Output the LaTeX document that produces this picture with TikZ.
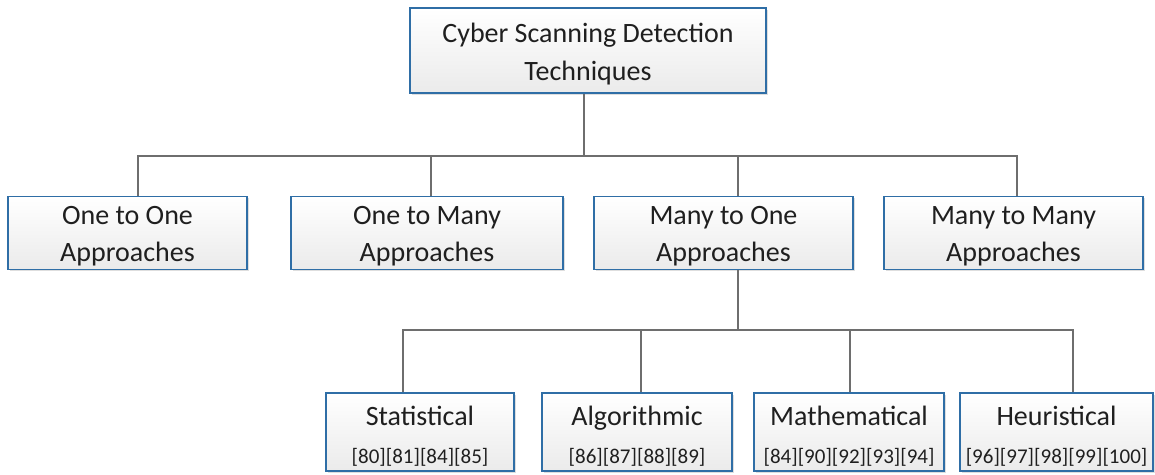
\documentclass[tikz,border=0pt]{standalone}
\usepackage{fontspec}
\setmainfont{Carlito}
\usetikzlibrary{shadows,calc}
\definecolor{boxblue}{HTML}{2F6EA6}
\definecolor{linegray}{HTML}{6E6E6E}
\tikzset{
  box/.style={draw=boxblue, line width=1.6pt, top color=white, bottom color=black!8,
    drop shadow={shadow xshift=1.6pt, shadow yshift=-1.6pt, fill=black!13, opacity=1},
    inner sep=0pt, align=center, text=black!88,
    font=\fontsize{28}{38}\selectfont},
  conn/.style={draw=linegray, line width=1.3pt}
}
\newcommand{\citesz}{\fontsize{21}{24}\selectfont}
\newcommand{\up}[1]{\rule{0pt}{#1pt}}
\newcommand{\dnr}{\rule[-8pt]{0pt}{0pt}}
\begin{document}
\begin{tikzpicture}[x=1pt,y=-1pt]
\useasboundingbox (0,0) rectangle (1155,474);
% top
\node[box, minimum width=356pt, minimum height=85pt] (top) at (588,50.5) {\up{29}Cyber Scanning Detection\\Techniques\dnr};
% level 2
\node[box, minimum width=239pt, minimum height=68pt, font=\fontsize{28}{37}\selectfont] (b1) at (127.5,233) {\up{28}One to One\\Approaches\dnr};
\node[box, minimum width=272pt, minimum height=68pt, font=\fontsize{28}{37}\selectfont] (b2) at (427,233) {\up{28}One to Many\\Approaches\dnr};
\node[box, minimum width=259pt, minimum height=68pt, font=\fontsize{28}{37}\selectfont] (b3) at (723.5,233) {\up{28}Many to One\\Approaches\dnr};
\node[box, minimum width=259pt, minimum height=68pt, font=\fontsize{28}{37}\selectfont] (b4) at (1013.5,233) {\up{28}Many to Many\\Approaches\dnr};
% level 3
\node[box, minimum width=188pt, minimum height=78pt] (s) at (420,432) {\up{32}Statistical\\{\citesz [80][81][84][85]}\dnr};
\node[box, minimum width=190pt, minimum height=78pt] (a) at (637,432) {\up{32}Algorithmic\\{\citesz [86][87][88][89]}\dnr};
\node[box, minimum width=190pt, minimum height=78pt] (m) at (849,432) {\up{32}Mathematical\\{\citesz [84][90][92][93][94]}\dnr};
\node[box, minimum width=193pt, minimum height=78pt] (h) at (1056.5,432) {\up{32}Heuristical\\{\citesz [96][97][98][99][100]}\dnr};
% bus coordinates
\coordinate (bus1) at (0,156);
\coordinate (bus2) at (0,330);
% connectors level 1 -> 2
\draw[conn] ([xshift=-4pt]top.south) -- ([xshift=-4pt]top.south |- bus1);
\draw[conn] ([xshift=10.5pt]b1.north) |- ([xshift=3.5pt]b4.north |- bus1) -- ([xshift=3.5pt]b4.north);
\draw[conn] ([xshift=4pt]b2.north) -- ([xshift=4pt]b2.north |- bus1);
\draw[conn] ([xshift=14.5pt]b3.north) -- ([xshift=14.5pt]b3.north |- bus1);
% connectors level 2 -> 3
\draw[conn] ([xshift=14.5pt]b3.south) -- ([xshift=14.5pt]b3.south |- bus2);
\draw[conn] ([xshift=-17pt]s.north) |- ([xshift=16.5pt]h.north |- bus2) -- ([xshift=16.5pt]h.north);
\draw[conn] ([xshift=4pt]a.north) -- ([xshift=4pt]a.north |- bus2);
\draw[conn] ([xshift=1pt]m.north) -- ([xshift=1pt]m.north |- bus2);
\end{tikzpicture}
\end{document}
